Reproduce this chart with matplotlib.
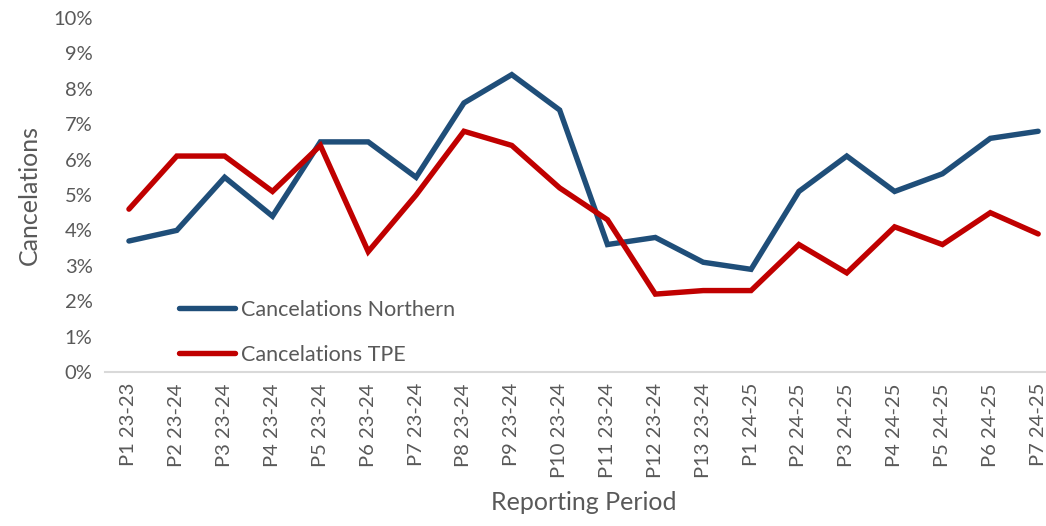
import matplotlib.pyplot as plt
from matplotlib.ticker import PercentFormatter

periods = ["P1 23-23", "P2 23-24", "P3 23-24", "P4 23-24", "P5 23-24", "P6 23-24",
           "P7 23-24", "P8 23-24", "P9 23-24", "P10 23-24", "P11 23-24", "P12 23-24",
           "P13 23-24", "P1 24-25", "P2 24-25", "P3 24-25", "P4 24-25", "P5 24-25",
           "P6 24-25", "P7 24-25"]
northern = [3.7, 4.0, 5.5, 4.4, 6.5, 6.5, 5.5, 7.6, 8.4, 7.4, 3.6, 3.8,
            3.1, 2.9, 5.1, 6.1, 5.1, 5.6, 6.6, 6.8]
tpe = [4.6, 6.1, 6.1, 5.1, 6.4, 3.4, 5.0, 6.8, 6.4, 5.2, 4.3, 2.2,
       2.3, 2.3, 3.6, 2.8, 4.1, 3.6, 4.5, 3.9]

plt.rcParams['font.family'] = ['Lato', 'DejaVu Sans']
grey = "#595959"

fig = plt.figure(figsize=(10.46, 5.26), dpi=100)
ax = fig.add_axes([0.1004, 0.2928, 0.915, 0.673])

x = range(len(periods))
ax.plot(x, northern, color="#1F4E79", lw=3.9, solid_capstyle="round",
        solid_joinstyle="miter", label="Cancelations Northern")
ax.plot(x, tpe, color="#C00000", lw=3.9, solid_capstyle="round",
        solid_joinstyle="miter", label="Cancelations TPE")

ax.set_xlim(-0.5, len(periods) - 0.5)
ax.set_ylim(0, 10)
ax.set_yticks(range(0, 11))
ax.yaxis.set_major_formatter(PercentFormatter(decimals=0))
ax.set_xticks(list(x))
ax.set_xticklabels(periods, rotation=90)

for s in ["top", "right", "left"]:
    ax.spines[s].set_visible(False)
ax.spines["bottom"].set_color("#d9d9d9")
ax.spines["bottom"].set_linewidth(1.5)
ax.tick_params(axis="both", length=0, labelsize=14.5, labelcolor=grey)
ax.tick_params(axis="y", pad=9)
ax.tick_params(axis="x", pad=8)

ax.set_ylabel("Cancelations", fontsize=18, color=grey, labelpad=9)
ax.set_xlabel("Reporting Period", fontsize=18, color=grey, labelpad=9)

ax.legend(loc="upper left", bbox_to_anchor=(0.068, 0.228), frameon=False,
          fontsize=15.5, labelcolor=grey, handlelength=2.6, handletextpad=0.3,
          labelspacing=1.15, borderaxespad=0)

fig.savefig("out.png", dpi=100)
